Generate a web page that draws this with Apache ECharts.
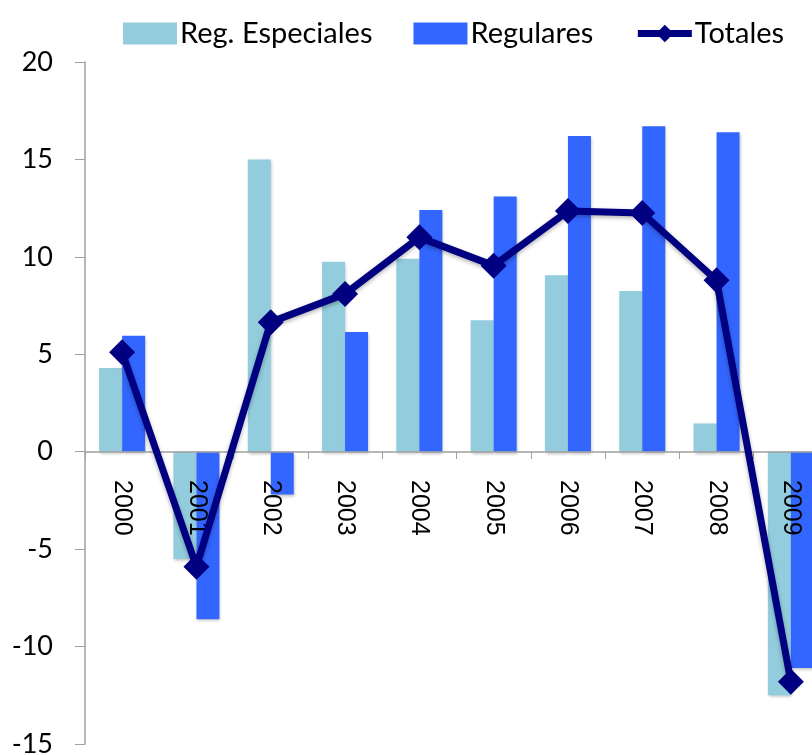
<!DOCTYPE html>
<html>
<head>
<meta charset="utf-8">
<script src="https://cdn.jsdelivr.net/npm/echarts@6/dist/echarts.min.js"></script>
<style>
  html, body { margin: 0; padding: 0; background: #fff; }
  #chart { width: 812px; height: 755px; }
</style>
</head>
<body>
<div id="chart"></div>
<script>
const years = ['2000', '2001', '2002', '2003', '2004', '2005', '2006', '2007', '2008', '2009']
const regEspeciales = [4.3, -5.5, 15.0, 9.75, 9.9, 6.75, 9.05, 8.25, 1.45, -12.5]
const regulares = [5.95, -8.6, -2.2, 6.15, 12.4, 13.1, 16.2, 16.7, 16.4, -11.1]
const totales = [5.1, -5.9, 6.65, 8.1, 11.0, 9.55, 12.35, 12.25, 8.8, -11.8]
const yTicks = { min: -15, max: 20, interval: 5 }

const chart = echarts.init(document.getElementById('chart'))

// el eje de categorias va sobre el cero: se sube con offset (grid inferior 744, cero en 452)
const gridTop = 62
const gridHeight = 682
const zeroOffset = -Math.round(gridHeight * (0 - yTicks.min) / (yTicks.max - yTicks.min))

const barShadow = {
  shadowColor: 'rgba(0,0,0,0.25)',
  shadowBlur: 3,
  shadowOffsetX: 1,
  shadowOffsetY: 2
}

const option = {
  animation: false,
  legend: {
    top: 14,
    left: 118,
    itemWidth: 54,
    itemHeight: 22,
    itemGap: 41,
    textStyle: {
      fontFamily: 'Lato',
      fontSize: 29,
      color: '#000',
      padding: [0, 0, 0, -2]
    },
    data: [
      { name: 'Reg. Especiales', icon: 'rect' },
      { name: 'Regulares', icon: 'rect' },
      { name: 'Totales', lineStyle: { width: 7 } }
    ]
  },
  grid: {
    left: 85,
    top: gridTop,
    width: 743,
    height: gridHeight,
    outerBoundsMode: 'none',
    containLabel: false
  },
  xAxis: {
    type: 'category',
    data: years,
    offset: zeroOffset,
    z: 3,
    axisLine: { onZero: false, lineStyle: { color: '#a0a0a0', width: 1.5 } },
    axisTick: { show: true, length: 7, lineStyle: { color: '#a0a0a0' } },
    axisLabel: {
      rotate: -90,
      margin: 28,
      interval: 0,
      hideOverlap: false,
      fontFamily: 'Liberation Sans',
      fontSize: 25,
      color: '#000'
    },
    splitLine: { show: false }
  },
  yAxis: {
    type: 'value',
    min: yTicks.min,
    max: yTicks.max,
    interval: yTicks.interval,
    axisLine: { show: true, lineStyle: { color: '#a0a0a0', width: 1.5 } },
    axisTick: { show: true, length: 10, lineStyle: { color: '#a0a0a0' } },
    axisLabel: {
      margin: 32,
      fontFamily: 'Lato',
      fontSize: 27,
      color: '#000'
    },
    splitLine: { show: false }
  },
  series: [
    {
      name: 'Reg. Especiales',
      type: 'bar',
      data: regEspeciales,
      barWidth: 23,
      barGap: '0%',
      itemStyle: Object.assign({ color: '#93cddd' }, barShadow)
    },
    {
      name: 'Regulares',
      type: 'bar',
      data: regulares,
      barWidth: 23,
      barGap: '0%',
      itemStyle: Object.assign({ color: '#3366ff' }, barShadow)
    },
    {
      name: 'Totales',
      type: 'line',
      data: totales,
      symbol: 'diamond',
      symbolSize: 26,
      lineStyle: {
        color: '#000080',
        width: 7,
        shadowColor: 'rgba(0,0,0,0.3)',
        shadowBlur: 4,
        shadowOffsetY: 2
      },
      itemStyle: { color: '#000080' },
      z: 5
    }
  ]
}

chart.setOption(option)
</script>
</body>
</html>
